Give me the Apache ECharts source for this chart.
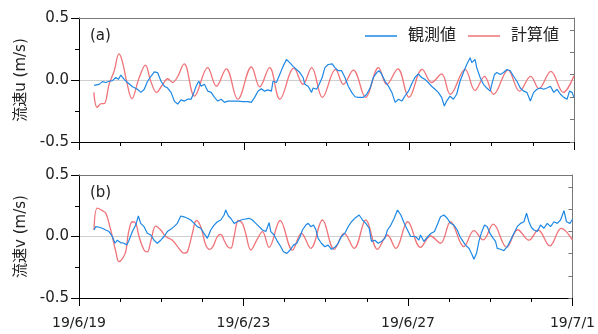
<!DOCTYPE html>
<html>
<head>
<meta charset="utf-8">
<script src="https://cdn.jsdelivr.net/npm/echarts@6/dist/echarts.min.js"></script>
<style>html,body{margin:0;padding:0;background:#fff;}#c{width:598px;height:334px;}</style>
</head>
<body>
<div id="c"></div>
<script>
// x in days from 2019/6/19 00:00
const xTickLabels = ['19/6/19', '19/6/23', '19/6/27', '19/7/1'];
const legendNames = ['観測値', '計算値'];
const panelLabels = ['(a)', '(b)'];
const axisNames = ['流速u (m/s)', '流速v (m/s)'];

// (a) observed u
const obsU = [[0.365,-0.043],[0.487,-0.035],[0.567,-0.013],[0.650,-0.02],[0.730,-0.01],[0.810,-0.005],[0.893,0.02],[0.956,0.005],[1.015,0.04],[1.095,0.005],[1.175,-0.02],[1.297,-0.055],[1.418,-0.075],[1.501,-0.10],[1.582,-0.075],[1.662,-0.01],[1.745,0.03],[1.825,0.065],[1.905,0.06],[1.988,-0.01],[2.068,-0.05],[2.148,-0.065],[2.231,-0.10],[2.311,-0.17],[2.392,-0.195],[2.433,-0.21],[2.474,-0.16],[2.555,-0.17],[2.635,-0.155],[2.718,-0.155],[2.798,-0.09],[2.839,-0.05],[2.903,-0.01],[2.961,-0.05],[3.041,-0.035],[3.122,-0.09],[3.204,-0.10],[3.285,-0.14],[3.365,-0.17],[3.448,-0.155],[3.528,-0.18],[3.608,-0.17],[3.691,-0.17],[3.771,-0.17],[3.852,-0.17],[3.973,-0.175],[4.095,-0.175],[4.178,-0.18],[4.258,-0.14],[4.338,-0.09],[4.421,-0.07],[4.501,-0.09],[4.582,-0.08],[4.664,-0.09],[4.703,-0.01],[4.786,-0.02],[4.866,0.045],[4.946,0.11],[5.029,0.165],[5.109,0.14],[5.190,0.11],[5.273,0.085],[5.353,0.06],[5.433,0.02],[5.474,-0.035],[5.555,-0.05],[5.637,-0.10],[5.676,-0.065],[5.759,-0.075],[5.815,-0.04],[5.895,0.02],[5.961,0.10],[6.041,0.125],[6.139,0.13],[6.204,0.10],[6.285,0.075],[6.367,0.075],[6.448,0.02],[6.528,-0.05],[6.611,-0.10],[6.691,-0.135],[6.771,-0.14],[6.893,-0.14],[6.976,-0.115],[7.056,-0.065],[7.136,0.02],[7.219,0.06],[7.275,0.075],[7.341,0.045],[7.421,-0.01],[7.501,-0.05],[7.584,-0.10],[7.664,-0.18],[7.745,-0.155],[7.827,-0.17],[7.908,-0.125],[7.988,-0.09],[8.061,-0.035],[8.144,0.02],[8.224,0.05],[8.304,0.02],[8.387,0.005],[8.467,-0.02],[8.547,-0.05],[8.630,-0.075],[8.710,-0.10],[8.791,-0.14],[8.856,-0.21],[8.912,-0.17],[8.995,-0.13],[9.075,-0.155],[9.156,-0.115],[9.238,-0.01],[9.319,0.06],[9.399,0.125],[9.482,0.18],[9.521,0.14],[9.603,0.165],[9.642,0.10],[9.725,0.02],[9.805,-0.035],[9.886,-0.065],[9.968,-0.09],[10.007,-0.035],[10.073,0.045],[10.129,0.06],[10.212,0.045],[10.292,0.06],[10.372,0.085],[10.455,0.075],[10.535,0.03],[10.616,-0.01],[10.698,-0.065],[10.779,-0.09],[10.859,-0.10],[10.942,-0.17],[11.022,-0.10],[11.102,-0.075],[11.185,-0.065],[11.265,-0.075],[11.345,-0.065],[11.428,-0.05],[11.509,-0.10],[11.589,-0.075],[11.672,-0.115],[11.752,-0.14],[11.832,-0.155],[11.891,-0.09],[11.954,-0.10],[12.0,-0.14]];

// (a) calculated u
const calU = [[0.36,-0.10],[0.44,-0.22],[0.54,-0.19],[0.61,-0.19],[0.73,-0.035],[0.85,0.07],[0.97,0.21],[1.05,0.15],[1.17,-0.035],[1.28,-0.15],[1.46,0.02],[1.61,0.12],[1.74,-0.01],[1.88,-0.10],[2.03,-0.035],[2.15,0.01],[2.27,-0.02],[2.38,0.02],[2.55,0.13],[2.80,-0.13],[3.12,0.10],[3.33,-0.05],[3.57,0.09],[3.85,-0.155],[4.18,0.105],[4.38,-0.056],[4.62,0.10],[4.87,-0.155],[5.21,0.095],[5.43,-0.035],[5.64,0.10],[5.90,-0.14],[6.22,0.085],[6.41,-0.035],[6.65,0.08],[6.95,-0.14],[7.26,0.10],[7.46,-0.035],[7.73,0.09],[8.00,-0.14],[8.32,0.085],[8.55,-0.02],[8.79,0.05],[9.00,-0.115],[9.36,0.085],[9.60,-0.085],[9.83,0.03],[10.05,-0.115],[10.40,0.08],[10.68,-0.09],[10.95,0.03],[11.15,-0.07],[11.44,0.07],[11.74,-0.10],[12.00,0.035]];

// (b) observed v
const obsV = [[0.365,0.053],[0.406,0.08],[0.487,0.075],[0.567,0.067],[0.650,0.053],[0.730,0.04],[0.810,0.0],[0.876,-0.055],[0.932,-0.03],[1.015,-0.05],[1.095,-0.055],[1.161,-0.07],[1.217,-0.03],[1.297,0.04],[1.380,0.093],[1.443,0.167],[1.501,0.107],[1.582,0.08],[1.662,0.026],[1.745,0.012],[1.825,-0.03],[1.905,-0.055],[1.988,-0.03],[2.068,0.0],[2.148,0.04],[2.231,0.058],[2.311,0.08],[2.392,0.107],[2.474,0.167],[2.555,0.16],[2.635,0.148],[2.718,0.134],[2.798,0.107],[2.878,0.08],[2.961,0.067],[3.041,0.026],[3.122,-0.015],[3.204,0.053],[3.285,0.093],[3.365,0.12],[3.448,0.134],[3.528,0.175],[3.569,0.215],[3.633,0.167],[3.691,0.148],[3.771,0.107],[3.852,0.12],[3.934,0.134],[4.015,0.14],[4.136,0.148],[4.217,0.134],[4.299,0.107],[4.380,0.08],[4.460,0.053],[4.543,0.04],[4.623,0.112],[4.664,0.04],[4.745,0.012],[4.825,-0.04],[4.908,-0.083],[4.971,-0.124],[5.054,-0.137],[5.134,-0.11],[5.214,-0.07],[5.297,-0.055],[5.377,0.0],[5.433,0.053],[5.516,0.093],[5.572,0.107],[5.637,0.08],[5.701,0.093],[5.759,0.058],[5.815,-0.015],[5.895,-0.055],[5.978,-0.083],[6.058,-0.07],[6.139,-0.104],[6.221,-0.088],[6.302,-0.055],[6.382,0.0],[6.465,0.026],[6.545,0.08],[6.626,0.12],[6.708,0.148],[6.813,0.175],[6.893,0.134],[6.976,0.107],[7.056,0.067],[7.112,-0.04],[7.195,-0.03],[7.275,-0.055],[7.355,-0.04],[7.438,-0.015],[7.501,0.053],[7.584,0.093],[7.664,0.148],[7.745,0.215],[7.827,0.175],[7.908,0.107],[7.988,0.053],[8.066,0.0],[8.183,0.0],[8.265,-0.03],[8.304,0.012],[8.387,-0.04],[8.484,0.0],[8.564,0.026],[8.645,0.04],[8.728,0.107],[8.791,0.16],[8.874,0.175],[8.954,0.148],[9.034,0.107],[9.117,0.093],[9.197,0.053],[9.263,0.0],[9.319,-0.03],[9.399,-0.07],[9.482,-0.096],[9.562,-0.15],[9.603,-0.185],[9.667,-0.137],[9.725,-0.04],[9.781,0.026],[9.861,0.093],[9.927,0.08],[9.993,0.026],[10.073,-0.015],[10.129,-0.04],[10.170,-0.096],[10.251,-0.104],[10.333,-0.115],[10.414,-0.083],[10.494,-0.03],[10.577,0.026],[10.657,0.08],[10.737,0.107],[10.820,0.12],[10.883,0.189],[10.942,0.12],[10.998,0.075],[11.063,0.053],[11.144,0.04],[11.224,0.093],[11.307,0.067],[11.387,0.107],[11.467,0.08],[11.550,0.12],[11.630,0.107],[11.710,0.134],[11.793,0.21],[11.856,0.12],[11.939,0.107],[12.0,0.14]];

// (b) calculated v
const calV = [[0.365,0.053],[0.445,0.23],[0.567,0.21],[0.650,0.19],[0.730,0.107],[0.810,0.0],[0.893,-0.12],[0.973,-0.205],[1.054,-0.18],[1.136,-0.125],[1.200,0.025],[1.297,0.12],[1.380,0.107],[1.460,0.0],[1.582,-0.11],[1.662,-0.125],[1.745,-0.04],[1.866,0.085],[1.988,0.053],[2.109,0.0],[2.270,-0.03],[2.392,-0.08],[2.555,-0.135],[2.635,-0.125],[2.757,0.025],[2.854,0.13],[2.961,0.08],[3.083,-0.07],[3.180,-0.105],[3.260,-0.08],[3.365,0.0],[3.448,0.017],[3.528,-0.03],[3.608,-0.08],[3.691,-0.095],[3.771,0.0],[3.876,0.13],[3.973,0.107],[4.056,0.02],[4.178,-0.11],[4.338,-0.02],[4.460,0.04],[4.623,-0.088],[4.891,0.13],[5.190,-0.11],[5.409,0.026],[5.637,-0.096],[5.920,0.134],[6.204,-0.104],[6.448,0.026],[6.691,-0.096],[6.976,0.134],[7.258,-0.104],[7.501,0.012],[7.705,-0.096],[7.993,0.12],[8.304,-0.088],[8.547,0.004],[8.791,-0.055],[9.034,0.12],[9.360,-0.083],[9.603,0.047],[9.830,-0.028],[10.073,0.10],[10.401,-0.088],[10.669,0.055],[10.942,-0.03],[11.168,0.053],[11.448,-0.077],[11.728,0.066],[12.0,-0.028]];

const BLUE = '#1e88e5';
const RED = '#ef7378';
const FONT = '"DejaVu Sans", "Noto Sans CJK JP", sans-serif';

const chart = echarts.init(document.getElementById('c'), null, {renderer: 'canvas'});

function xAxes(gi, showLabel) {
  return [{
    type: 'value', gridIndex: gi, min: 0, max: 12, interval: 4, position: 'bottom',
    axisLine: {show: true, onZero: false, lineStyle: {color: '#000', width: 1}},
    axisTick: {show: true, length: 8, lineStyle: {color: '#000'}},
    minorTick: {show: true, splitNumber: 4, length: 4, lineStyle: {color: '#000'}},
    splitLine: {show: false},
    axisLabel: {show: showLabel, margin: 18, color: '#222', fontSize: 14, fontFamily: FONT,
      formatter: v => xTickLabels[Math.round(v / 4)]}
  }, {
    type: 'value', gridIndex: gi, min: 0, max: 12, position: 'top',
    axisLine: {show: true, onZero: false, lineStyle: {color: '#777', width: 1}},
    axisTick: {show: false}, axisLabel: {show: false}, splitLine: {show: false}
  }];
}
function yAxes(gi, name) {
  return [{
    type: 'value', gridIndex: gi, min: -0.5, max: 0.5, interval: 0.5, position: 'left',
    name: name, nameLocation: 'middle', nameRotate: 90, nameGap: 50,
    nameTextStyle: {fontSize: 15, color: '#222', fontFamily: FONT},
    axisLine: {show: true, onZero: false, lineStyle: {color: '#000', width: 1}},
    axisTick: {show: true, length: 8, lineStyle: {color: '#000'}},
    minorTick: {show: true, splitNumber: 2, length: 4, lineStyle: {color: '#000'}},
    splitLine: {show: true, showMinLine: false, showMaxLine: false, lineStyle: {color: '#cfcfcf', width: 1}},
    axisLabel: {margin: 10, color: '#222', fontSize: 15, fontFamily: FONT, formatter: v => v.toFixed(1)}
  }, {
    type: 'value', gridIndex: gi, min: 0, max: 5.53, interval: 1, position: 'right',
    axisLine: {show: true, onZero: false, lineStyle: {color: '#777', width: 1}},
    axisTick: {show: true, inside: true, length: 4, lineStyle: {color: '#777'}},
    axisLabel: {show: false}, splitLine: {show: false}
  }];
}

const option = {
  animation: false,
  backgroundColor: '#fff',
  grid: [
    {left: 79, right: 24, top: 18, height: 124},
    {left: 79, right: 24, top: 175, height: 123}
  ],
  title: [
    {text: panelLabels[0], left: 85, top: 24, textStyle: {fontSize: 15, fontWeight: 'normal', color: '#222', fontFamily: FONT}},
    {text: panelLabels[1], left: 85, top: 181, textStyle: {fontSize: 15, fontWeight: 'normal', color: '#222', fontFamily: FONT}}
  ],
  legend: {
    data: legendNames, right: 34, top: 23, icon: 'rect', itemWidth: 32, itemHeight: 1.6, itemGap: 12,
    textStyle: {fontSize: 16, color: '#222', fontFamily: FONT, padding: [0, 0, 0, 6]}
  },
  xAxis: [...xAxes(0, false), ...xAxes(1, true)],
  yAxis: [...yAxes(0, axisNames[0]), ...yAxes(1, axisNames[1])],
  series: [
    {name: legendNames[1], type: 'line', xAxisIndex: 0, yAxisIndex: 0, data: calU, symbol: 'none', smooth: 0.38, z: 2,
      lineStyle: {color: RED, width: 1.3}, itemStyle: {color: RED}},
    {name: legendNames[0], type: 'line', xAxisIndex: 0, yAxisIndex: 0, data: obsU, symbol: 'none', z: 3,
      lineStyle: {color: BLUE, width: 1.2}, itemStyle: {color: BLUE}},
    {name: legendNames[1], type: 'line', xAxisIndex: 2, yAxisIndex: 2, data: calV, symbol: 'none', smooth: 0.38, z: 2,
      lineStyle: {color: RED, width: 1.3}, itemStyle: {color: RED}},
    {name: legendNames[0], type: 'line', xAxisIndex: 2, yAxisIndex: 2, data: obsV, symbol: 'none', z: 3,
      lineStyle: {color: BLUE, width: 1.2}, itemStyle: {color: BLUE}}
  ]
};
chart.setOption(option);
</script>
</body>
</html>
